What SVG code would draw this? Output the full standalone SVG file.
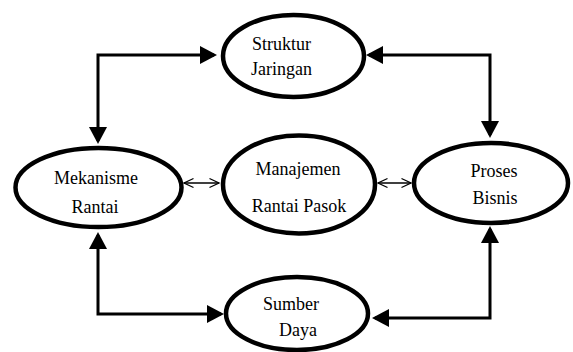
<svg xmlns="http://www.w3.org/2000/svg" width="573" height="352" viewBox="0 0 573 352">
<style>
.node{fill:#fff;stroke:#000;stroke-width:4.5}
.thick{fill:none;stroke:#000;stroke-width:3;marker-start:url(#big);marker-end:url(#big)}
.thin{fill:none;stroke:#000;stroke-width:1.3;marker-start:url(#small);marker-end:url(#small)}
</style>
<defs>
<marker id="big" markerUnits="userSpaceOnUse" viewBox="0 0 17 18" refX="14" refY="9" markerWidth="17" markerHeight="18" orient="auto-start-reverse">
<path d="M0,0 L17,9 L0,18 Z" fill="#000"/>
</marker>
<marker id="small" markerUnits="userSpaceOnUse" viewBox="0 0 12 12" refX="10.5" refY="6" markerWidth="12" markerHeight="12" orient="auto-start-reverse">
<path d="M1,1.5 L10.5,6 L1,10.5" fill="none" stroke="#000" stroke-width="1.3"/>
</marker>
</defs>
<rect width="573" height="352" fill="#fff"/>
<g id="connectors">
<path class="thick" d="M98,141 L98,55 L214,55"/>
<path class="thick" d="M369,55 L490,55 L490,135"/>
<path class="thick" d="M98,235 L98,314 L221,314"/>
<path class="thick" d="M490,229 L490,318 L375,318"/>
<path class="thin" d="M184,183 L219,183"/>
<path class="thin" d="M378,183 L411,183"/>
</g>
<g font-family="Liberation Serif, Times New Roman, serif" font-size="18" fill="#000" text-anchor="middle">
<g id="struktur">
<ellipse class="node" cx="293.5" cy="56" rx="70.5" ry="41"/>
<text x="281.5" y="50">Struktur</text>
<text x="281.5" y="75">Jaringan</text>
</g>
<g id="mekanisme">
<ellipse class="node" cx="98.5" cy="187.5" rx="83" ry="39.5"/>
<text x="96" y="184">Mekanisme</text>
<text x="95" y="213">Rantai</text>
</g>
<g id="manajemen">
<ellipse class="node" cx="299" cy="184.5" rx="76" ry="49"/>
<text x="298" y="175">Manajemen</text>
<text x="299" y="212">Rantai Pasok</text>
</g>
<g id="proses">
<ellipse class="node" cx="491" cy="183" rx="77" ry="40"/>
<text x="494" y="177">Proses</text>
<text x="495" y="204">Bisnis</text>
</g>
<g id="sumber">
<ellipse class="node" cx="297" cy="313.5" rx="71" ry="36.5"/>
<text x="291" y="310">Sumber</text>
<text x="298" y="336">Daya</text>
</g>
</g>
</svg>
